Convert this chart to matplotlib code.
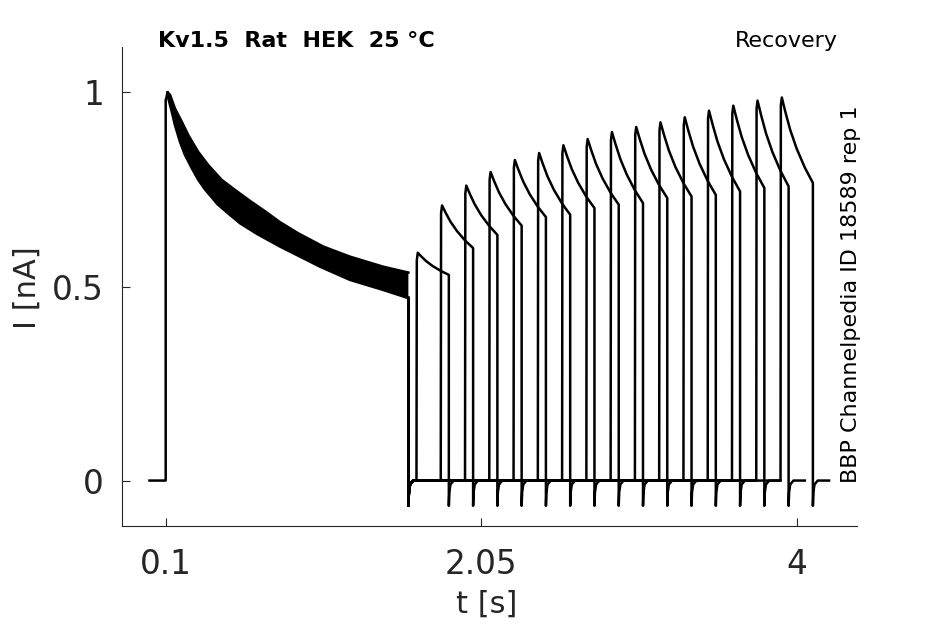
import matplotlib
matplotlib.use("Agg")
import matplotlib.pyplot as plt
import numpy as np

# prepulse: upper and lower edge of the band of 16 overlapping sweeps
pre_high_t = [0.112, 0.127, 0.157, 0.199, 0.240, 0.301, 0.363, 0.446,
              0.528, 0.620, 0.714, 0.806, 0.920, 1.074, 1.239, 1.445, 1.600]
pre_high = [1.000, 0.994, 0.959, 0.925, 0.890, 0.847, 0.813, 0.775,
            0.749, 0.721, 0.694, 0.666, 0.637, 0.603, 0.577, 0.551, 0.536]
pre_low_t = [0.112, 0.116, 0.137, 0.157, 0.188, 0.219, 0.261, 0.301,
             0.343, 0.384, 0.420, 0.487, 0.559, 0.662, 0.806, 0.930,
             1.054, 1.239, 1.445, 1.600]
pre_low = [1.000, 0.985, 0.951, 0.916, 0.873, 0.839, 0.805, 0.775,
           0.750, 0.730, 0.712, 0.688, 0.663, 0.636, 0.603, 0.577,
           0.551, 0.517, 0.491, 0.470]

# test pulses after the recovery gap
test_start = [1.65, 1.80, 1.95, 2.10, 2.25, 2.40, 2.55, 2.70,
              2.85, 3.00, 3.15, 3.30, 3.45, 3.60, 3.75, 3.90]
test_peak = [0.587, 0.709, 0.760, 0.795, 0.826, 0.844, 0.864, 0.880,
             0.898, 0.911, 0.923, 0.936, 0.953, 0.966, 0.979, 0.987]
test_end = [0.530, 0.599, 0.633, 0.657, 0.679, 0.685, 0.702, 0.711,
            0.715, 0.728, 0.732, 0.736, 0.745, 0.754, 0.758, 0.767]

# shared shape of a test pulse decay (time after onset, fraction of drop left)
decay_dt = [0.008, 0.03, 0.06, 0.10, 0.15, 0.20]
decay_frac = [1.0, 0.83, 0.62, 0.40, 0.18, 0.0]

# tail after a step ends (time after step end, current)
tail_dt = [0.0, 0.003, 0.01, 0.03, 0.10]
tail_i = [-0.065, -0.03, -0.01, 0.0, 0.0]

STEP_ON = 0.1
PRE_OFF = 1.6
TEST_DUR = 0.2

TXT = "#262626"

fig = plt.figure(figsize=(9.45, 6.24), dpi=100)
ax = fig.add_axes([0.1291, 0.1571, 0.7775, 0.7681])

lw = 1.8

# holding + onset of prepulse
ax.plot([0.0, STEP_ON, STEP_ON, pre_high_t[0]], [0.0, 0.0, 0.98, pre_high[0]],
        color="black", lw=lw)
band_t = np.r_[pre_high_t, pre_low_t[::-1]]
band_i = np.r_[pre_high, pre_low[::-1]]
ax.fill(band_t, band_i, color="black", lw=0)
ax.plot(pre_high_t, pre_high, color="black", lw=lw)
ax.plot(pre_low_t, pre_low, color="black", lw=lw)

for k in range(len(test_start)):
    t0 = test_start[k]
    t1 = t0 + TEST_DUR
    ts = [PRE_OFF]
    ys = [pre_low[-1]]
    # tail after prepulse, then holding until the test pulse
    ts += [PRE_OFF + d for d in tail_dt[:-1]]
    ys += tail_i[:-1]
    ts += [t0, t0 + 0.002]
    ys += [0.0, test_peak[k] - 0.02]
    for d, f in zip(decay_dt, decay_frac):
        ts.append(t0 + d)
        ys.append(test_end[k] + f * (test_peak[k] - test_end[k]))
    ts += [t1 + d for d in tail_dt]
    ys += tail_i
    ax.plot(ts, ys, color="black", lw=lw)

ax.set_xlim(-0.17, 4.371)
ax.set_ylim(-0.117, 1.118)
ax.set_xticks([0.1, 2.05, 4])
ax.set_xticklabels(["0.1", "2.05", "4"])
ax.set_yticks([0, 0.5, 1])
ax.set_yticklabels(["0", "0.5", "1"])

for side in ["top", "right"]:
    ax.spines[side].set_visible(False)
for side in ["left", "bottom"]:
    ax.spines[side].set_color(TXT)
    ax.spines[side].set_linewidth(0.8)

ax.tick_params(direction="in", length=5.8, width=0.8, colors=TXT,
               labelsize=23.5)
ax.tick_params(axis="x", pad=16)
ax.tick_params(axis="y", pad=13)

fig.text(0.0291, 0.5393, "I [nA]", rotation=90, ha="center", va="center",
         fontsize=22, color=TXT)
fig.text(0.515, 0.0176, "t [s]", ha="center", va="baseline",
         fontsize=22, color=TXT)

fig.text(158 / 945, 0.9252, "Kv1.5  Rat  HEK  25 °C", ha="left",
         va="baseline", fontsize=16, fontweight="bold", color="black")
fig.text(838.3 / 945, 0.9252, "Recovery", ha="right", va="baseline",
         fontsize=16, color="black")
fig.text(851 / 945, (624 - 483) / 624, "BBP Channelpedia ID 18589 rep 1",
         rotation=90, ha="center", va="bottom", fontsize=16, color="black")

fig.savefig("out.png", dpi=100)
plt.close(fig)
